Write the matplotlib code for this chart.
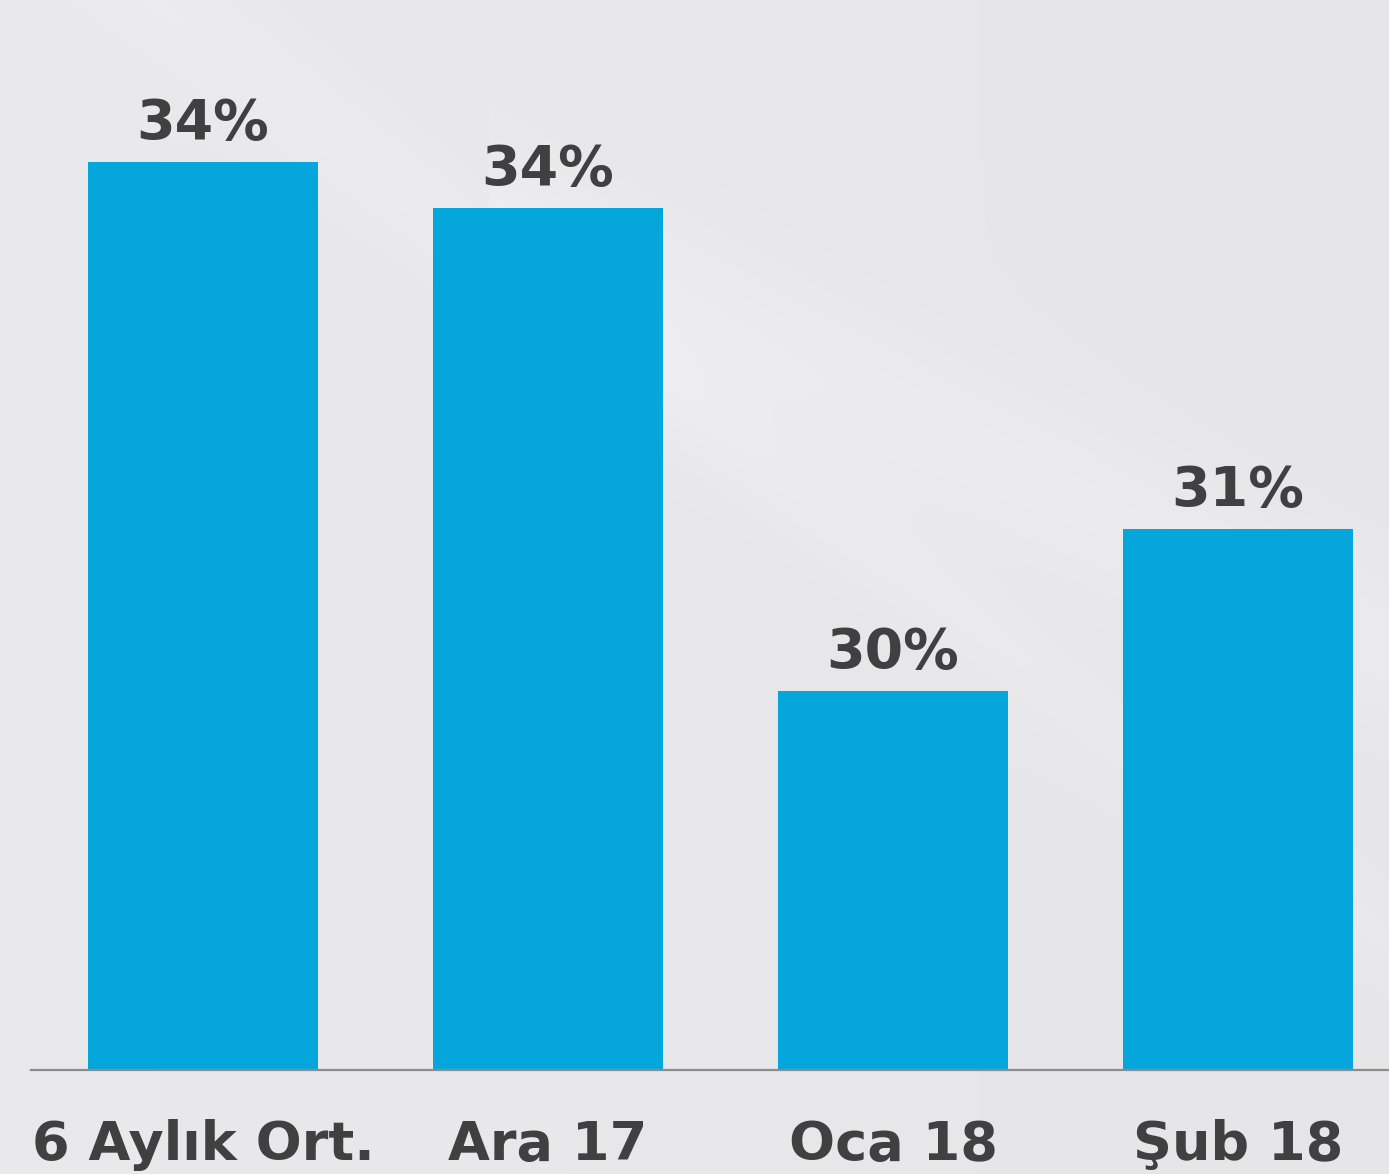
import numpy as np
import matplotlib
matplotlib.use("Agg")
import matplotlib.pyplot as plt

categories = ["6 Aylık Ort.", "Ara 17", "Oca 18", "Şub 18"]
values = [34.4, 33.98, 29.6, 31.07]

BAR_COLOR = "#05a6dc"
TEXT_COLOR = "#404040"

fig = plt.figure(figsize=(13.89, 11.74), dpi=100)

# background with subtle diagonal sheen
bg = fig.add_axes([0, 0, 1, 1], zorder=0)
h, w = 300, 355
yy, xx = np.mgrid[0:h, 0:w]
u = xx / w
v = yy / h
base = 0.902 + 0.022 * (1 - u) * 0.6
streak = 0.018 * np.exp(-((v - (0.55 * u + 0.0)) / 0.08) ** 2) * (u > 0.35)
streak2 = 0.012 * np.exp(-((v - (0.9 * u - 0.1)) / 0.05) ** 2)
lum = base + streak + streak2
img = np.stack([lum, lum, lum + 0.01], axis=-1).clip(0, 1)
bg.imshow(img, aspect="auto", extent=[0, 1, 0, 1], interpolation="bilinear")
bg.axis("off")

ax = fig.add_axes([31 / 1389, (1174 - 1070) / 1174, 1358 / 1389, 1070 / 1174], zorder=1)
ax.patch.set_alpha(0)
x = np.arange(len(categories))
ax.bar(x, values, width=230 / 345, color=BAR_COLOR, zorder=2)
ax.set_xlim(-0.4986, 3.4377)
ax.set_ylim(26.16, 35.87)

for xi, val in zip(x, values):
    ax.annotate(f"{val:.0f}%", (xi, val), xytext=(0, 16.5), textcoords="offset points",
                ha="center", va="baseline", fontsize=40, fontweight="bold",
                color=TEXT_COLOR, family="DejaVu Sans")

for s in ["top", "right", "left"]:
    ax.spines[s].set_visible(False)
ax.spines["bottom"].set_color("#8c8c8c")
ax.spines["bottom"].set_linewidth(1.6)
ax.set_yticks([])
ax.set_xticks(x)
ax.set_xticklabels(categories, fontsize=39, fontweight="bold", color=TEXT_COLOR,
                   family="DejaVu Sans")
ax.tick_params(axis="x", length=0, pad=35)

fig.savefig("out.png", dpi=100)
